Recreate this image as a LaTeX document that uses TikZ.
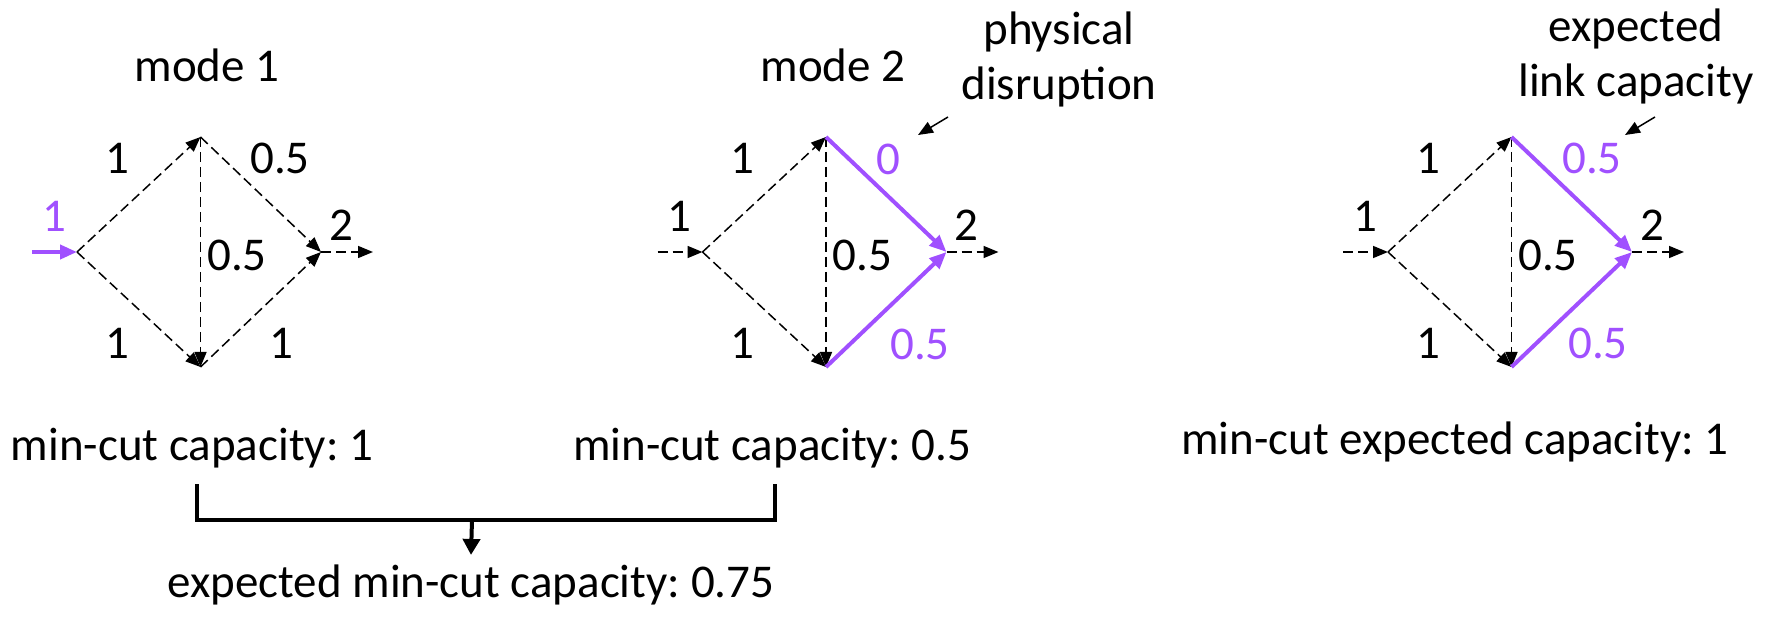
\documentclass[tikz,border=0pt]{standalone}
\usepackage{fontspec}
\setmainfont{Carlito}
\frenchspacing
\usetikzlibrary{arrows.meta}
\definecolor{flowpurple}{RGB}{160,80,255}

\begin{document}
\begin{tikzpicture}[x=0.5pt, y=-0.5pt,
    every node/.style={font=\fontsize{23.5}{27.5}\selectfont, inner sep=0pt},
    dedge/.style={draw=black, line width=0.75pt, dash pattern=on 5pt off 2.5pt, -{Triangle[length=7.5pt,width=6pt]}},
    pedge/.style={draw=flowpurple, line width=2pt, -{Triangle[length=8.5pt,width=7pt]}},
    note/.style={line width=0.75pt, -{Triangle[length=7.5pt,width=6pt]}},
    bar/.style={line width=2pt},
    plab/.style={text=flowpurple}]
  \useasboundingbox (0,0) rectangle (1768,620);

  % the three copies of the network
  \foreach \k/\x/\is/\rs/\ic in {1/77/pedge/dedge/flowpurple, 2/702.5/dedge/pedge/black, 3/1388/dedge/pedge/black} {
    \coordinate (in\k)  at (\x-45,252);
    \coordinate (s\k)   at (\x,252);
    \coordinate (u\k)   at (\x+123.5,137);
    \coordinate (v\k)   at (\x+123.5,367);
    \coordinate (t\k)   at (\x+244,252);
    \coordinate (out\k) at (\x+296,252);
    \draw[\is] (in\k) -- (s\k);
    \draw[dedge] (s\k) -- (u\k);
    \draw[dedge] (s\k) -- (v\k);
    \draw[dedge] (u\k) -- (v\k);
    \draw[\rs] (u\k) -- (t\k);
    \draw[\rs] (v\k) -- (t\k);
    \draw[dedge] (t\k) -- (out\k);
    \node[text=\ic] (ni\k) at (\x-23,216) {1};
    \node (nu\k) at (\x+40,158) {1};
    \node (nv\k) at (\x+40,343) {1};
    \node (nm\k) at (\x+160,255) {0.5};
    \node (no\k) at (\x+264,225) {2};
  }

  % capacities on the right-hand links
  \node (nx1) at (280,158) {0.5};
  \node (ny1) at (281,343) {1};
  \node[plab] (nx2) at (888,159) {0};
  \node[plab] (ny2) at (920,344) {0.5};
  \node[plab] (nx3) at (1592,158) {0.5};
  \node[plab] (ny3) at (1598,343) {0.5};

  % titles and notes
  \node[anchor=base] (mode1) at (207,82) {mode 1};
  \node[anchor=base] (mode2) at (833,82) {mode 2};
  \node[align=center] (disrupt) at (1059,59) {physical\\disruption};
  \node[align=center] (explink) at (1636,56) {expected\\link capacity};
  \coordinate (dtail) at (948,117);
  \coordinate (dhead) at (918,135);
  \coordinate (etail) at (1655,117);
  \coordinate (ehead) at (1625,135);
  \draw[note] (dtail) -- (dhead);
  \draw[note] (etail) -- (ehead);

  % min-cut results
  \node[anchor=base] (cut1) at (192,460) {min-cut capacity: 1};
  \node[anchor=base] (cut2) at (772,460) {min-cut capacity: 0.5};
  \node[anchor=base] (cut3) at (1455,454) {min-cut expected capacity: 1};
  \node[anchor=base] (avg) at (471,597) {expected min-cut capacity: 0.75};
  \coordinate (brl) at (197,484);
  \coordinate (brr) at (775,484);
  \coordinate (brm) at (472,520);
  \draw[bar] (brl) -- ++(0,36) -| (brr);
  \draw[bar, -{Triangle[length=8pt,width=8.5pt]}] (brm) -- ([yshift=4.5pt]avg.north);
\end{tikzpicture}
\end{document}
